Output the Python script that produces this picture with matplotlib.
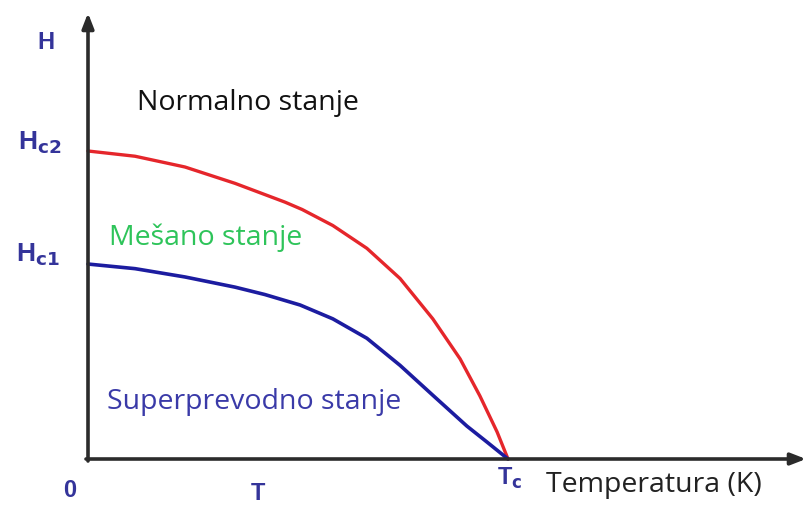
import matplotlib
matplotlib.use("Agg")
import matplotlib.pyplot as plt

# Normalised temperature (T/Tc) and field (H/Hc2)
t_hc2 = [0.0, 0.112, 0.231, 0.350, 0.469, 0.510, 0.583, 0.664, 0.743, 0.821, 0.886, 0.933, 0.974, 1.0]
h_hc2 = [1.0, 0.983, 0.948, 0.895, 0.834, 0.810, 0.758, 0.684, 0.586, 0.455, 0.325, 0.205, 0.088, 0.0]
t_hc1 = [0.0, 0.112, 0.231, 0.350, 0.421, 0.505, 0.583, 0.664, 0.743, 0.821, 0.902, 0.950, 1.0]
h_hc1 = [0.633, 0.618, 0.591, 0.558, 0.534, 0.500, 0.455, 0.392, 0.304, 0.207, 0.107, 0.055, 0.0]

region_labels = ["Normalno stanje", "Mešano stanje", "Superprevodno stanje"]
x_label = "Temperatura (K)"

W, H = 807, 506
fig = plt.figure(figsize=(W / 100, H / 100), dpi=100)
ax = fig.add_axes([0, 0, 1, 1])
ox, oy, sx, sy = 88, 460, 420, 308
ax.set_xlim(-ox / sx, (W - ox) / sx)
ax.set_ylim(-(H - oy) / sy, oy / sy)
ax.axis("off")

def px(x, y):
    return ((x - ox) / sx, (oy - y) / sy)

axis_col = "#2b2b2b"
# axes arrows
ax.annotate("", xy=px(88, 14), xytext=px(88, 462),
            arrowprops=dict(arrowstyle="-|>,head_length=0.9,head_width=0.35", lw=2.6, color=axis_col,
                            shrinkA=0, shrinkB=0))
ax.annotate("", xy=px(806, 460), xytext=px(86, 460),
            arrowprops=dict(arrowstyle="-|>,head_length=0.9,head_width=0.35", lw=2.6, color=axis_col,
                            shrinkA=0, shrinkB=0))

ax.plot(t_hc2, h_hc2, color="#e5262b", lw=2.4, solid_capstyle="round", solid_joinstyle="round")
ax.plot(t_hc1, h_hc1, color="#1c1ca0", lw=2.6, solid_capstyle="round", solid_joinstyle="round")

lab_col = "#34349a"
bold = dict(family="Liberation Sans", weight="bold", color=lab_col)
ax.text(*px(46, 43), "H", fontsize=17, ha="center", va="center", **bold)
ax.text(*px(40, 143), r"H$_{\mathbf{c2}}$", fontsize=19, ha="center", va="center", **bold)
ax.text(*px(38, 255), r"H$_{\mathbf{c1}}$", fontsize=19, ha="center", va="center", **bold)
ax.text(*px(70, 491), "0", fontsize=17, ha="center", va="center", **bold)
ax.text(*px(258, 494), "T", fontsize=17, ha="center", va="center", **bold)
ax.text(*px(510, 478), r"T$_{\mathbf{c}}$", fontsize=17, ha="center", va="center", **bold)

font = "Open Sans"
ax.text(*px(137, 103), region_labels[0], fontsize=20.5, color="#111111", ha="left", va="center", family=font)
ax.text(*px(109, 238), region_labels[1], fontsize=20.5, color="#2ec45a", ha="left", va="center", family=font)
ax.text(*px(107, 402), region_labels[2], fontsize=20.5, color="#3a3aa8", ha="left", va="center", family=font)
ax.text(*px(546, 485), x_label, fontsize=20.5, color="#222222", ha="left", va="center", family=font)

fig.savefig("out.png", dpi=100)
